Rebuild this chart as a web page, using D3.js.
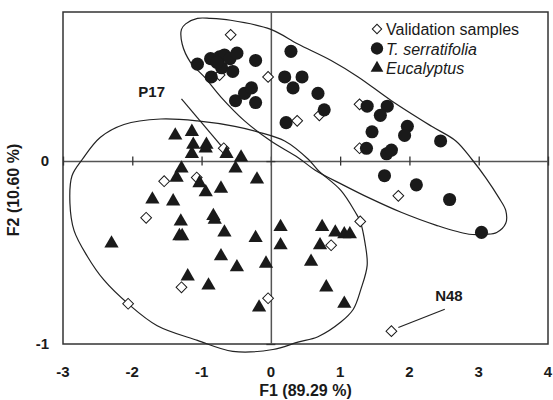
<!DOCTYPE html>
<html>
<head>
<meta charset="utf-8">
<script src="https://cdn.jsdelivr.net/npm/d3@7"></script>
<style>
  body { margin: 0; background: #fff; }
  svg { display: block; font-family: "Liberation Sans", Arial, sans-serif; }
</style>
</head>
<body>
<svg id="chart" width="553" height="400"></svg>
<script>
// F1 / F2 scores
var validation = [
  [-0.58, 0.69], [-0.04, 0.46], [0.38, 0.22], [-0.68, 0.07], [1.28, 0.31],
  [0.70, 0.25], [1.28, 0.07], [1.84, -0.19], [1.29, -0.33], [0.87, -0.46],
  [1.74, -0.93], [-1.54, -0.11], [-1.07, -0.09], [-1.80, -0.31], [-1.29, -0.69],
  [-2.06, -0.78], [-0.04, -0.75], [-0.74, 0.47]
];

var serratifolia = [
  [-1.06, 0.53], [-0.87, 0.56], [-0.86, 0.46], [-0.74, 0.57], [-0.67, 0.58],
  [-0.71, 0.51], [-0.78, 0.54], [-0.59, 0.56], [-0.49, 0.59], [-0.55, 0.49],
  [-0.22, 0.55], [-0.51, 0.33], [-0.38, 0.37], [-0.28, 0.40], [-0.22, 0.32],
  [0.29, 0.60], [0.20, 0.46], [0.32, 0.40], [0.45, 0.46], [0.68, 0.37],
  [0.77, 0.28], [0.22, 0.21], [1.39, 0.30], [1.68, 0.30], [1.58, 0.25],
  [1.46, 0.16], [1.97, 0.19], [1.93, 0.14], [2.45, 0.11], [1.38, 0.07],
  [1.67, 0.04], [1.74, 0.06], [1.64, -0.08], [2.10, -0.13], [2.58, -0.21],
  [3.04, -0.39]
];

var eucalyptus = [
  [-1.38, 0.14], [-1.14, 0.16], [-1.12, 0.09], [-0.93, 0.09], [-1.14, 0.04],
  [-0.94, 0.07], [-0.64, 0.04], [-0.43, 0.02], [-0.51, -0.04], [-1.29, -0.04],
  [-1.36, -0.09], [-1.03, -0.12], [-0.94, -0.17], [-0.72, -0.15], [-0.20, -0.10],
  [-1.71, -0.21], [-1.41, -0.22], [-0.83, -0.30], [-0.81, -0.32], [-1.30, -0.33],
  [-1.32, -0.41], [-1.28, -0.41], [-0.67, -0.39], [-2.30, -0.45], [-0.22, -0.42],
  [0.14, -0.36], [0.14, -0.46], [-0.72, -0.52], [-0.49, -0.58], [-0.07, -0.56],
  [-1.20, -0.63], [-0.90, -0.68], [-0.17, -0.80], [0.74, -0.36], [0.93, -0.39],
  [1.06, -0.40], [1.14, -0.40], [0.71, -0.46], [0.58, -0.55], [0.80, -0.69],
  [1.06, -0.78]
];

// confidence outlines of both groups
var serratifoliaHull = [
  [-1.28, 0.64], [-1.29, 0.72], [-1.23, 0.75], [-1.06, 0.78], [-0.87, 0.78],
  [-0.58, 0.77], [0.00, 0.72], [0.39, 0.64], [0.87, 0.55], [1.26, 0.46],
  [1.74, 0.33], [2.32, 0.19], [2.67, 0.11], [2.90, 0.01], [3.10, -0.09],
  [3.29, -0.20], [3.39, -0.27], [3.39, -0.34], [3.26, -0.39], [3.10, -0.40],
  [2.86, -0.40], [2.38, -0.35], [1.88, -0.28], [1.41, -0.20], [1.04, -0.13],
  [0.64, -0.05], [0.39, 0.02], [0.00, 0.11], [-0.38, 0.22], [-0.72, 0.35],
  [-0.96, 0.46], [-1.16, 0.54]
];

var eucalyptusHull = [
  [-1.59, 0.23], [-1.06, 0.22], [-0.52, 0.19], [-0.19, 0.16], [0.20, 0.11],
  [0.54, 0.01], [0.68, -0.05], [1.01, -0.16], [1.22, -0.28], [1.29, -0.33],
  [1.36, -0.45], [1.39, -0.57], [1.30, -0.70], [1.19, -0.81], [1.01, -0.88],
  [0.68, -0.96], [0.39, -0.99], [0.03, -1.03], [-0.55, -1.04], [-1.06, -0.98],
  [-1.64, -0.90], [-2.06, -0.78], [-2.41, -0.65], [-2.65, -0.52], [-2.84, -0.38],
  [-2.90, -0.23], [-2.87, -0.08], [-2.72, 0.01], [-2.46, 0.13], [-2.12, 0.20]
];

// labelled samples: text position, leader start, leader end
var callouts = [
  {name: "P17", at: [-1.72, 0.38], from: [-1.29, 0.34], to: [-0.71, 0.08]},
  {name: "N48", at: [2.57, -0.74], from: [2.51, -0.81], to: [1.84, -0.91]}
];

var xTicks = [-3, -2, -1, 0, 1, 2, 3, 4];
var yTicks = [-1, 0];
var legendNames = ["Validation samples", "T. serratifolia", "Eucalyptus"];

var svg = d3.select("#chart");
var ink = "#1a1a1a";

var x = d3.scaleLinear().domain([-3, 4]).range([63, 548]);
var y = d3.scaleLinear().domain([-1, 0.815]).range([344, 12]);

// plot frame
svg.append("rect")
    .attr("x", x(-3)).attr("y", y(0.815))
    .attr("width", x(4) - x(-3)).attr("height", y(-1) - y(0.815))
    .attr("fill", "none").attr("stroke", "#333").attr("stroke-width", 1.5);

// axes crossing at zero, with crossing tick marks
var xAxis = d3.axisBottom(x).tickValues(xTicks).tickSizeInner(9).tickSizeOuter(0).tickFormat("");
svg.append("g")
    .attr("transform", "translate(0," + (y(0) - 4.5) + ")")
    .call(xAxis)
    .call(function (g) {
        g.select(".domain").attr("transform", "translate(0,4.5)").attr("stroke", "#555").attr("stroke-width", 1.5);
        g.selectAll(".tick line").attr("stroke", "#333").attr("stroke-width", 1.3);
    });

var yAxis = d3.axisLeft(y).tickValues(yTicks).tickSizeInner(9).tickSizeOuter(0).tickFormat("");
svg.append("g")
    .attr("transform", "translate(" + (x(0) + 4.5) + ",0)")
    .call(yAxis)
    .call(function (g) {
        g.select(".domain").attr("transform", "translate(-4.5,0)").attr("stroke", "#555").attr("stroke-width", 1.5);
        g.selectAll(".tick line").attr("stroke", "#333").attr("stroke-width", 1.3);
    });

// tick labels sit outside the frame
svg.append("g").selectAll("text")
    .data(xTicks).enter().append("text")
    .attr("x", function (d) { return x(d); })
    .attr("y", 377)
    .attr("text-anchor", "middle")
    .attr("font-size", 15).attr("font-weight", "bold").attr("fill", ink)
    .text(function (d) { return d; });

svg.append("g").selectAll("text")
    .data(yTicks).enter().append("text")
    .attr("x", 49)
    .attr("y", function (d) { return y(d) + 5; })
    .attr("text-anchor", "end")
    .attr("font-size", 15).attr("font-weight", "bold").attr("fill", ink)
    .text(function (d) { return d; });

svg.append("text")
    .attr("x", (x(-3) + x(4)) / 2).attr("y", 396)
    .attr("text-anchor", "middle")
    .attr("font-size", 16).attr("font-weight", "bold").attr("fill", ink)
    .text("F1 (89.29 %)");

svg.append("text")
    .attr("transform", "translate(19,190) rotate(-90)")
    .attr("text-anchor", "middle")
    .attr("font-size", 16).attr("font-weight", "bold").attr("fill", ink)
    .text("F2 (10.60 %)");

// group outlines
var outline = d3.line()
    .x(function (d) { return x(d[0]); })
    .y(function (d) { return y(d[1]); })
    .curve(d3.curveCatmullRomClosed.alpha(0.5));

svg.append("g").selectAll("path")
    .data([serratifoliaHull, eucalyptusHull]).enter().append("path")
    .attr("d", outline)
    .attr("fill", "none").attr("stroke", "#222").attr("stroke-width", 1.2);

// callout leaders and names
svg.append("g").selectAll("line")
    .data(callouts).enter().append("line")
    .attr("x1", function (d) { return x(d.from[0]); })
    .attr("y1", function (d) { return y(d.from[1]); })
    .attr("x2", function (d) { return x(d.to[0]); })
    .attr("y2", function (d) { return y(d.to[1]); })
    .attr("stroke", "#222").attr("stroke-width", 1.2);

svg.append("g").selectAll("text")
    .data(callouts).enter().append("text")
    .attr("x", function (d) { return x(d.at[0]); })
    .attr("y", function (d) { return y(d.at[1]) + 5; })
    .attr("text-anchor", "middle")
    .attr("font-size", 15).attr("font-weight", "bold").attr("fill", ink)
    .text(function (d) { return d.name; });

// markers
var diamond = d3.symbol().type(d3.symbolSquare).size(58);
var dot = d3.symbol().type(d3.symbolCircle).size(135);
var tri = d3.symbol().type(d3.symbolTriangle).size(88);

svg.append("g").selectAll("path")
    .data(validation).enter().append("path")
    .attr("d", diamond)
    .attr("transform", function (d) { return "translate(" + x(d[0]) + "," + y(d[1]) + ") rotate(45)"; })
    .attr("fill", "#fff").attr("stroke", ink).attr("stroke-width", 1);

svg.append("g").selectAll("path")
    .data(eucalyptus).enter().append("path")
    .attr("d", tri)
    .attr("transform", function (d) { return "translate(" + x(d[0]) + "," + y(d[1]) + ")"; })
    .attr("fill", ink);

svg.append("g").selectAll("path")
    .data(serratifolia).enter().append("path")
    .attr("d", dot)
    .attr("transform", function (d) { return "translate(" + x(d[0]) + "," + y(d[1]) + ")"; })
    .attr("fill", ink);

// legend
var legend = svg.append("g").attr("transform", "translate(377,29)");
var legendMarks = [
  function (g) { g.append("path").attr("d", d3.symbol().type(d3.symbolSquare).size(44)).attr("transform", "rotate(45)")
                  .attr("fill", "#fff").attr("stroke", ink).attr("stroke-width", 1); },
  function (g) { g.append("path").attr("d", d3.symbol().type(d3.symbolCircle).size(120)).attr("fill", ink); },
  function (g) { g.append("path").attr("d", d3.symbol().type(d3.symbolTriangle).size(70)).attr("fill", ink); }
];
legendNames.forEach(function (name, i) {
    var row = legend.append("g").attr("transform", "translate(0," + (i * 19.5) + ")");
    legendMarks[i](row);
    row.append("text")
        .attr("x", 9).attr("y", 6)
        .attr("font-size", 16).attr("fill", ink)
        .attr("font-style", i > 0 ? "italic" : "normal")
        .text(name);
});
</script>
</body>
</html>
